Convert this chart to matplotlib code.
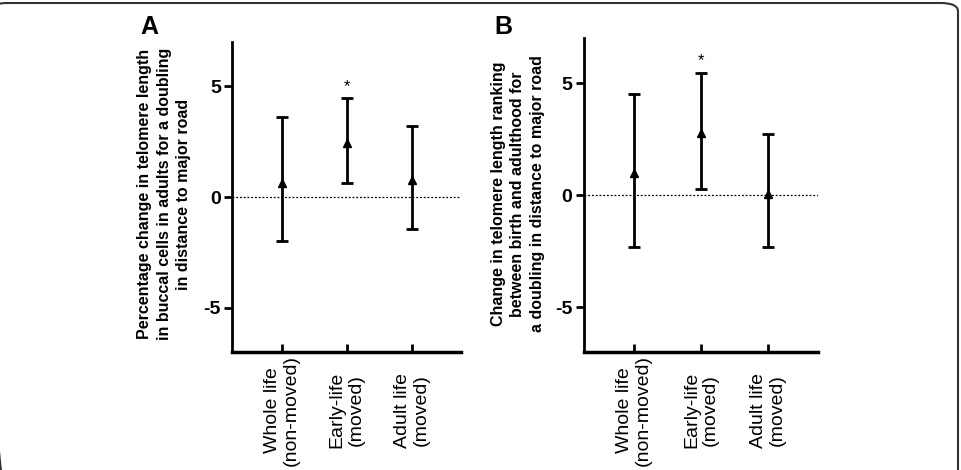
import matplotlib
matplotlib.use("Agg")
import matplotlib.pyplot as plt
from matplotlib.patches import FancyBboxPatch

plt.rcParams['font.family'] = ['Liberation Sans', 'DejaVu Sans']

categories = ["Whole life\n(non-moved)", "Early-life\n(moved)", "Adult life\n(moved)"]

a_mean = [0.65, 2.45, 0.75]
a_low = [-2.0, 0.65, -1.43]
a_high = [3.6, 4.45, 3.2]

b_mean = [1.0, 2.8, 0.05]
b_low = [-2.33, 0.27, -2.31]
b_high = [4.54, 5.48, 2.75]

a_star = 5.0
b_star = 6.0
yticks = [-5, 0, 5]

a_ylabel = "Percentage change in telomere length\nin buccal cells in adults for a doubling\nin distance to major road"
b_ylabel = "Change in telomere length ranking\nbetween birth and adulthood for\na doubling in distance to major road"

W, H = 961, 470
fig = plt.figure(figsize=(W / 100, H / 100), dpi=100)


def px_rect(l, r, t, b):
    return [l / W, 1 - b / H, (r - l) / W, (b - t) / H]


def panel(rect, mean, low, high, star, ylabel, label_x, letter, letter_x):
    ax = fig.add_axes(rect)
    x = list(range(1, len(categories) + 1))
    yerr = [[m - lo for m, lo in zip(mean, low)], [hi - m for m, hi in zip(mean, high)]]
    ax.errorbar(x, mean, yerr=yerr, fmt='^', color='black', ms=6, lw=2,
                capsize=4.5, capthick=2, elinewidth=2)
    ax.axhline(0, color='black', lw=0.9, ls=(0, (1.5, 1.5)))
    ax.set_xlim(0.24, 3.75)
    ax.set_ylim(-7, 7)
    ax.set_yticks(yticks)
    ax.set_yticklabels([str(v) for v in yticks], fontsize=14, fontweight='bold')
    ax.set_xticks(x)
    ax.set_xticklabels(categories, rotation=90, va='center', ha='center',
                       multialignment='center', fontsize=14, linespacing=1.15)
    ax.tick_params(axis='x', direction='in', length=6, width=2, pad=42)
    ax.tick_params(axis='y', direction='out', length=6, width=2, pad=2)
    for s in ['top', 'right']:
        ax.spines[s].set_visible(False)
    ax.spines['left'].set_linewidth(2)
    ax.spines['bottom'].set_linewidth(2.5)
    ax.text(2, star, '*', ha='center', va='center', fontsize=12)
    fig.text(label_x / W, 1 - 194 / H, ylabel, rotation=90, ha='center', va='center',
             fontsize=11.5, fontweight='bold', multialignment='center', linespacing=1.35)
    fig.text(letter_x / W, 1 - 27 / H, letter, ha='left', va='center',
             fontsize=18, fontweight='bold')
    return ax


panel(px_rect(232, 461, 42, 352), a_mean, a_low, a_high, a_star, a_ylabel, 164, 'A', 140)
panel(px_rect(583.5, 818, 38.5, 352), b_mean, b_low, b_high, b_star, b_ylabel, 518, 'B', 494)

border = FancyBboxPatch((-10 / W, -20 / H), (958 + 10) / W, (467 + 20) / H,
                        boxstyle="round,pad=0,rounding_size=0.018",
                        transform=fig.transFigure, fill=False, ec='#333333', lw=1.5)
fig.patches.append(border)

fig.savefig("out.png", dpi=100)
